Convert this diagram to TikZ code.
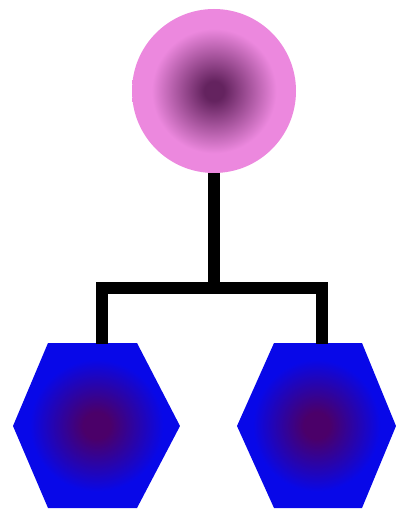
\documentclass[tikz,border=0pt]{standalone}
\definecolor{pinkout}{RGB}{236,136,222}
\definecolor{pinkin}{RGB}{100,35,95}
\definecolor{hexout}{RGB}{8,8,232}
\definecolor{hexin}{RGB}{75,0,105}
\pgfdeclareradialshading{ballshade}{\pgfpoint{0bp}{0bp}}{color(0bp)=(pinkin); color(3bp)=(pinkin); color(19bp)=(pinkout); color(50bp)=(pinkout)}
\pgfdeclareradialshading{hexshade}{\pgfpoint{0bp}{0bp}}{color(0bp)=(hexin); color(4bp)=(hexin); color(20bp)=(hexout); color(50bp)=(hexout)}
\tikzset{
  ball/.style={circle, minimum size=164pt, inner sep=0pt, shading=ballshade},
  hexbox/.style={shading=hexshade},
  link/.style={line width=11.5pt, black, line join=miter}
}
\begin{document}
\begin{tikzpicture}[x=1pt,y=-1pt]
\useasboundingbox (0,0) rectangle (396,513);
\fill[white] (0,0) rectangle (396,513);
\node[ball] (c) at (214,91) {};
% hexagons
\path[hexbox] (48,343) -- (137,343) -- (180,426) -- (137,508) -- (48,508) -- (13,426) -- cycle;
\path[hexbox] (274,343) -- (362,343) -- (396,426) -- (362,508) -- (274,508) -- (237,426) -- cycle;
\coordinate (l) at (102,344);
\coordinate (r) at (322,344);
\coordinate (j) at (214,288);
\draw[link] (c.south) -- (j);
\draw[link] (l) -- (l |- j) -- (r |- j) -- (r);
\end{tikzpicture}
\end{document}
